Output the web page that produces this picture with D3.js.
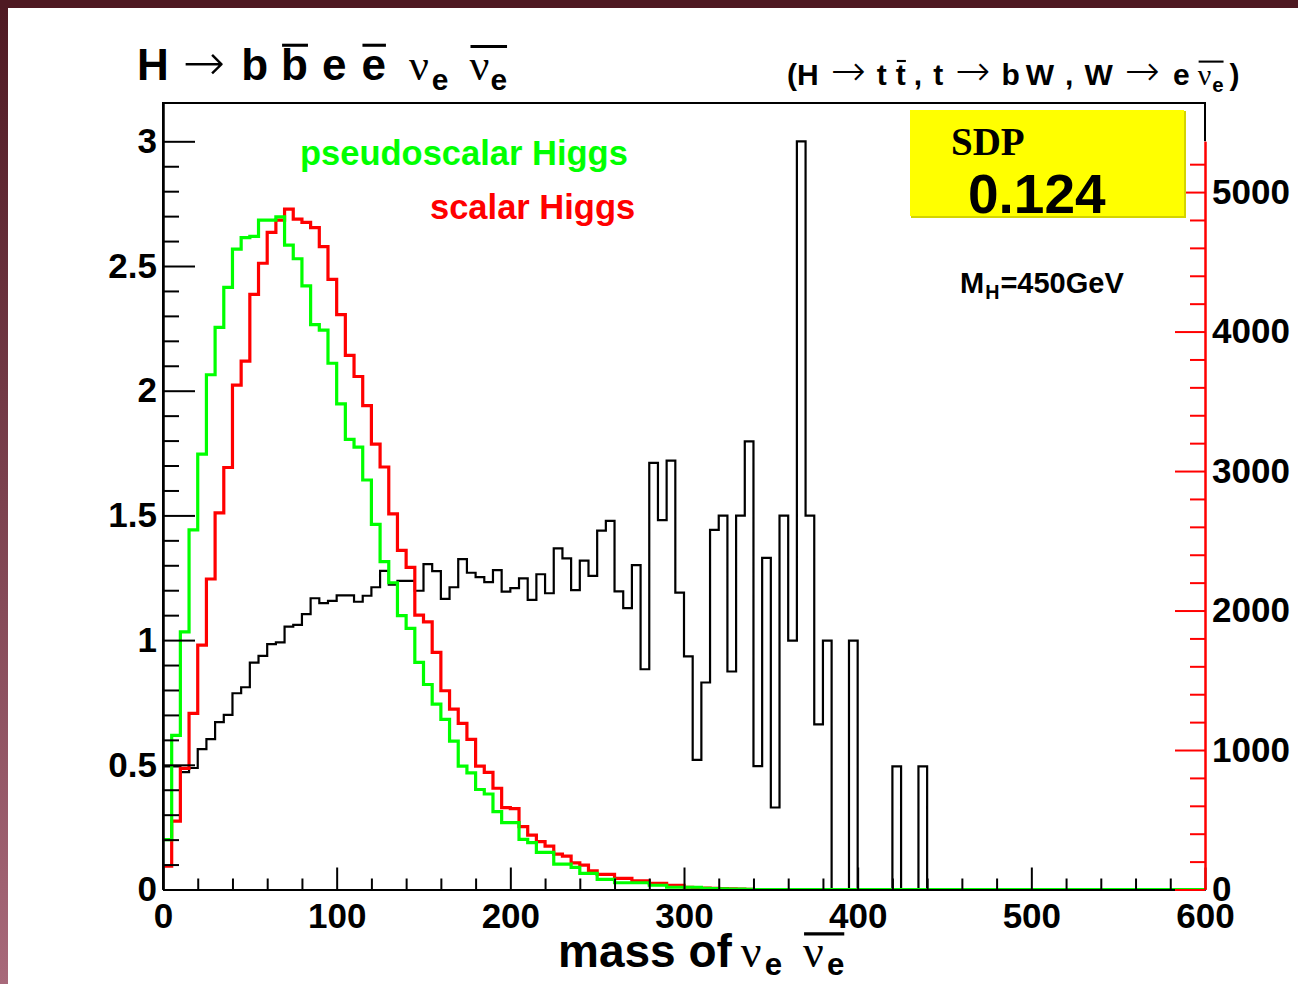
<!DOCTYPE html>
<html>
<head>
<meta charset="utf-8">
<script src="https://cdn.jsdelivr.net/npm/d3@7"></script>
<style>
  html, body { margin: 0; padding: 0; background: #fff; }
  svg { display: block; }
  .lab { font-family: "Liberation Sans", Arial, sans-serif; font-weight: bold; }
</style>
</head>
<body>
<script>
'use strict';

// 120 bins of 5 GeV, 0..600
const binWidth = 5;
const nBins = 120;

// pseudoscalar Higgs (left axis units)
const pseudoVals = [
  0.200, 0.618, 1.033, 1.442, 1.746, 2.064, 2.254, 2.414, 2.568, 2.614,
  2.619, 2.684, 2.684, 2.697, 2.584, 2.529, 2.420, 2.265, 2.243, 2.110,
  1.947, 1.805, 1.774, 1.642, 1.464, 1.315, 1.230, 1.098, 1.047, 0.911,
  0.822, 0.743, 0.682, 0.595, 0.495, 0.468, 0.401, 0.383, 0.312, 0.268,
  0.268, 0.201, 0.188, 0.149, 0.149, 0.102, 0.102, 0.089, 0.065, 0.065,
  0.041, 0.041, 0.027, 0.027, 0.027, 0.027, 0.017, 0.017, 0.009, 0.009,
  0.009, 0.009, 0.005, 0.004, 0.003, 0.002, 0.002, 0.001
];

// scalar Higgs (left axis units)
const scalarVals = [
  0.094, 0.274, 0.486, 0.706, 0.980, 1.245, 1.510, 1.692, 2.022, 2.119,
  2.386, 2.511, 2.635, 2.684, 2.728, 2.688, 2.675, 2.654, 2.578, 2.446,
  2.305, 2.142, 2.057, 1.940, 1.786, 1.694, 1.506, 1.360, 1.292, 1.100,
  1.073, 0.951, 0.797, 0.723, 0.666, 0.602, 0.495, 0.470, 0.406, 0.328,
  0.324, 0.252, 0.218, 0.192, 0.174, 0.142, 0.134, 0.107, 0.098, 0.075,
  0.061, 0.061, 0.045, 0.045, 0.035, 0.035, 0.025, 0.025, 0.017, 0.017,
  0.009, 0.007, 0.006, 0.005, 0.004, 0.003, 0.002, 0.001
];

// background (counts, right axis)
const bkgCounts = [
  883, 883, 842, 871, 1007, 1078, 1200, 1252, 1407, 1450,
  1627, 1675, 1759, 1772, 1885, 1897, 1974, 2088, 2053, 2069,
  2108, 2108, 2063, 2106, 2167, 2285, 2185, 2212, 2212, 2142,
  2333, 2283, 2083, 2167, 2369, 2271, 2239, 2203, 2290, 2135,
  2160, 2231, 2076, 2260, 2124, 2446, 2374, 2147, 2358, 2248,
  2573, 2643, 2137, 2017, 2326, 1579, 3059, 2648, 3075, 2128,
  1672, 930, 1484, 2578, 2680, 1563, 2680, 3213, 885, 2378,
  588, 2680, 1784, 5364, 2680, 1184, 1784, 0, 0, 1784,
  0, 0, 0, 0, 883, 0, 0, 883
];

const leftTicks = [0, 0.5, 1, 1.5, 2, 2.5, 3];
const rightTicks = [0, 1000, 2000, 3000, 4000, 5000];
const xTicks = [0, 100, 200, 300, 400, 500, 600];

function fill(arr) {
  return d3.range(nBins).map((i) => (i < arr.length ? arr[i] : 0));
}

const W = 1298, H = 984;
const frame = { left: 163, right: 1205, top: 103, bottom: 889.5 };

const svg = d3.select('body').append('svg')
  .attr('width', W)
  .attr('height', H);

// canvas border (ROOT canvas colour)
const grad = svg.append('defs').append('linearGradient')
  .attr('id', 'lg').attr('x1', 0).attr('y1', 0).attr('x2', 0).attr('y2', 1);
grad.append('stop').attr('offset', '0%').attr('stop-color', '#4e1922');
grad.append('stop').attr('offset', '100%').attr('stop-color', '#a8697a');
svg.append('rect').attr('width', W).attr('height', H).attr('fill', '#fff');
svg.append('rect').attr('x', 0).attr('y', 0).attr('width', 8).attr('height', H).attr('fill', 'url(#lg)');
svg.append('rect').attr('x', 0).attr('y', 0).attr('width', W).attr('height', 8).attr('fill', '#4e1922');

const x = d3.scaleLinear().domain([0, 600]).range([frame.left, frame.right]);
const yL = d3.scaleLinear().domain([0, 3.1536]).range([frame.bottom, frame.top]);
const yR = d3.scaleLinear().domain([0, 5364]).range([frame.bottom, yL(3)]);

// histograms
function stepPts(vals) {
  const pts = vals.map((v, i) => [i * binWidth, v]);
  pts.push([nBins * binWidth, vals[vals.length - 1]]);
  return pts;
}
const lineL = d3.line().curve(d3.curveStepAfter).x((d) => x(d[0])).y((d) => yL(d[1]));
const lineR = d3.line().curve(d3.curveStepAfter).x((d) => x(d[0])).y((d) => yR(d[1]));

svg.append('path').datum(stepPts(fill(bkgCounts)))
  .attr('fill', 'none').attr('stroke', '#000').attr('stroke-width', 2.2)
  .attr('d', lineR);
svg.append('path').datum(stepPts(fill(scalarVals)))
  .attr('fill', 'none').attr('stroke', '#ff0000').attr('stroke-width', 3.2)
  .attr('d', lineL);
svg.append('path').datum(stepPts(fill(pseudoVals)))
  .attr('fill', 'none').attr('stroke', '#00ff00').attr('stroke-width', 3.2)
  .attr('d', lineL);

// frame
svg.append('path')
  .attr('d', `M${frame.left},${frame.bottom}V${frame.top}H${frame.right}V${yL(3)}`)
  .attr('fill', 'none').attr('stroke', '#000').attr('stroke-width', 2);

function styleAxis(g, color) {
  g.selectAll('line').attr('stroke', color).attr('stroke-width', 2);
  g.selectAll('path.domain').attr('stroke', color).attr('stroke-width', 2);
}
function labels(g) {
  g.select('path.domain').remove();
  g.selectAll('text').attr('class', 'lab').style('font-size', '35px').attr('fill', '#000');
}

// left axis
const minorL = d3.range(0, 31).map((i) => i / 10).filter((v) => Math.round(v * 10) % 5 !== 0);
svg.append('g').attr('transform', `translate(${frame.left},0)`)
  .call(d3.axisRight(yL).tickValues(minorL).tickSize(16).tickSizeOuter(0).tickFormat(''))
  .call((g) => styleAxis(g, '#000'));
svg.append('g').attr('transform', `translate(${frame.left},0)`)
  .call(d3.axisRight(yL).tickValues(leftTicks).tickSize(32).tickSizeOuter(0).tickFormat(''))
  .call((g) => styleAxis(g, '#000'));
svg.append('g').attr('transform', `translate(${frame.left},0)`)
  .call(d3.axisLeft(yL).tickValues(leftTicks).tickSize(0).tickPadding(6).tickFormat(d3.format('~g')))
  .call(labels);

// bottom axis
const minorX = d3.range(0, 601, 20).filter((v) => v % 100 !== 0);
svg.append('g').attr('transform', `translate(0,${frame.bottom})`)
  .call(d3.axisTop(x).tickValues(minorX).tickSize(11).tickSizeOuter(0).tickFormat(''))
  .call((g) => styleAxis(g, '#000'));
svg.append('g').attr('transform', `translate(0,${frame.bottom})`)
  .call(d3.axisTop(x).tickValues(xTicks).tickSize(22).tickSizeOuter(0).tickFormat(''))
  .call((g) => styleAxis(g, '#000'));
svg.append('g').attr('transform', `translate(0,${frame.bottom})`)
  .call(d3.axisBottom(x).tickValues(xTicks).tickSize(0).tickPadding(14).tickFormat(d3.format('d')))
  .call(labels);

// right axis (red)
const minorR = d3.range(0, 5400, 200).filter((v) => v % 1000 !== 0 && v <= 5364);
svg.append('g').attr('transform', `translate(${frame.right},0)`)
  .call(d3.axisLeft(yR).tickValues(minorR).tickSize(15).tickSizeOuter(0).tickFormat(''))
  .call((g) => styleAxis(g, '#ff0000'));
svg.append('g').attr('transform', `translate(${frame.right},0)`)
  .call(d3.axisLeft(yR).tickValues(rightTicks).tickSize(30).tickSizeOuter(0).tickFormat(''))
  .call((g) => styleAxis(g, '#ff0000'));
svg.append('g').attr('transform', `translate(${frame.right},0)`)
  .call(d3.axisRight(yR).tickValues(rightTicks).tickSize(0).tickPadding(7).tickFormat(d3.format('d')))
  .call(labels);

// rich text helper: pieces placed one after another, optional overbar
const SANS = '"Liberation Sans", Arial, sans-serif';
const SERIF = '"Liberation Serif", "Times New Roman", serif';
const ARROW = '"DejaVu Sans", sans-serif';
function rich(x0, y0, size, parts, color, subShift) {
  let cx = x0;
  const g = svg.append('g');
  const shift = subShift == null ? 0.22 : subShift;
  parts.forEach((p) => {
    cx += (p.gap || 0);
    let fs = p.sub ? size * 0.68 : size;
    let fam = SANS, wt = 'bold';
    if (p.serif) { fam = SERIF; wt = 'normal'; }
    if (p.arrow) { fam = ARROW; wt = '200'; fs = size * p.arrow; }
    const t = g.append('text')
      .attr('x', cx)
      .attr('y', y0 + (p.sub ? size * shift : 0))
      .attr('fill', color || '#000')
      .style('font-family', fam)
      .style('font-weight', wt)
      .style('font-size', fs + 'px')
      .text(p.t);
    const w = t.node().getComputedTextLength();
    p.x0 = cx;
    p.x1 = cx + w;
    cx += w;
  });
  parts.forEach((p, i) => {
    if (!p.bar) return;
    const end = parts[i + (p.barSpan || 0)].x1;
    g.append('line')
      .attr('x1', p.x0 + 1).attr('x2', end)
      .attr('y1', y0 - size * p.bar).attr('y2', y0 - size * p.bar)
      .attr('stroke', color || '#000').attr('stroke-width', size * 0.07);
  });
}

// title
rich(137, 80, 44, [
  { t: 'H' },
  { t: '\u2192', arrow: 1.15, gap: 14 },
  { t: 'b', gap: 16 },
  { t: 'b', gap: 13, bar: 0.79 },
  { t: 'e', gap: 14 },
  { t: 'e', gap: 15, bar: 0.79 },
  { t: '\u03bd', serif: true, gap: 23 },
  { t: 'e', sub: true, gap: 3 },
  { t: '\u03bd', serif: true, gap: 21, bar: 0.76, barSpan: 1 },
  { t: 'e', sub: true, gap: 1 }
]);

// decay chain
rich(787, 85, 30, [
  { t: '(H' },
  { t: '\u2192', arrow: 1.4, gap: 12 },
  { t: 't', gap: 11 },
  { t: 't', gap: 9, bar: 0.8 },
  { t: ',', gap: 8 },
  { t: 't', gap: 11 },
  { t: '\u2192', arrow: 1.4, gap: 12 },
  { t: 'b', gap: 11 },
  { t: 'W', gap: 6 },
  { t: ',', gap: 11 },
  { t: 'W', gap: 11 },
  { t: '\u2192', arrow: 1.4, gap: 12 },
  { t: 'e', gap: 13 },
  { t: '\u03bd', serif: true, gap: 8, bar: 0.78, barSpan: 1 },
  { t: 'e', sub: true, gap: 1 },
  { t: ')', gap: 6 }
]);

// legend texts
svg.append('text').attr('class', 'lab').attr('x', 300).attr('y', 165)
  .style('font-size', '34.5px').attr('fill', '#00ff00').text('pseudoscalar Higgs');
svg.append('text').attr('class', 'lab').attr('x', 430).attr('y', 219)
  .style('font-size', '34.5px').attr('fill', '#ff0000').text('scalar Higgs');

// SDP box
svg.append('rect').attr('x', 911).attr('y', 111).attr('width', 275).attr('height', 107)
  .attr('fill', '#d4d400');
svg.append('rect').attr('x', 910).attr('y', 110).attr('width', 274).attr('height', 106)
  .attr('fill', '#ffff00');
svg.append('text').attr('x', 951).attr('y', 155)
  .style('font-family', SERIF).style('font-weight', 'bold').style('font-size', '39px')
  .text('SDP');
svg.append('text').attr('class', 'lab').attr('x', 968).attr('y', 213)
  .style('font-size', '55px').text('0.124');

// M_H
rich(960, 293, 29, [
  { t: 'M' },
  { t: 'H', sub: true, gap: 1 },
  { t: '=450GeV', gap: 1 }
]);

// x-axis title
rich(558, 967, 46, [
  { t: 'mass of' },
  { t: '\u03bd', serif: true, gap: 9 },
  { t: 'e', sub: true, gap: 3 },
  { t: '\u03bd', serif: true, gap: 21, bar: 0.72, barSpan: 1 },
  { t: 'e', sub: true, gap: 3 }
], '#000', 0.17);
</script>
</body>
</html>
